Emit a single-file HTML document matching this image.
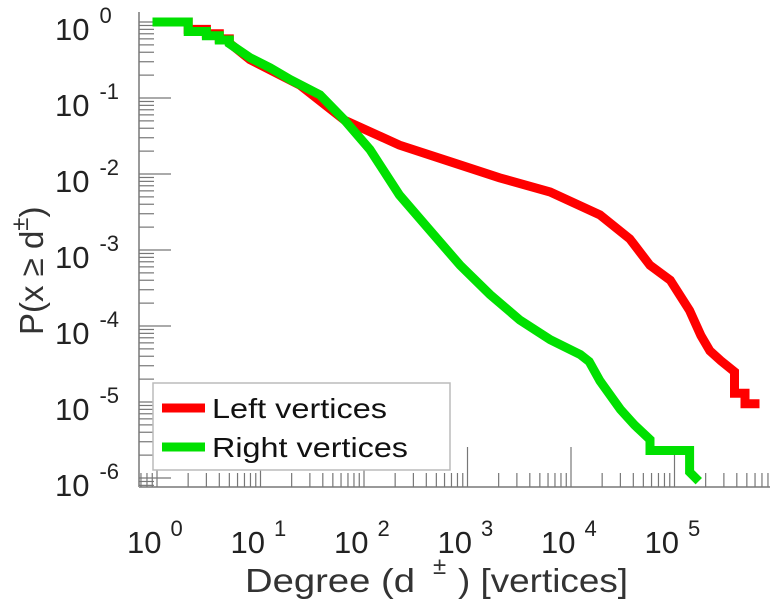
<!DOCTYPE html>
<html><head><meta charset="utf-8"><style>
html,body{margin:0;padding:0;background:#fff;}
svg{display:block;font-family:"Liberation Sans",sans-serif;}
</style></head><body>
<svg id="chart" width="774" height="600" viewBox="0 0 774 600" xmlns="http://www.w3.org/2000/svg">
<g id="axes"></g>
<g id="series"></g>
<g id="legend">
  <rect x="153" y="383" width="297" height="87" fill="#fff" stroke="#bbb" stroke-width="1.5"/>
  <line x1="162" y1="408" x2="205" y2="408" stroke="#ff0000" stroke-width="9"/>
  <text x="212" y="418" font-size="28" fill="#111" textLength="175" lengthAdjust="spacingAndGlyphs">Left vertices</text>
  <line x1="162" y1="447" x2="205" y2="447" stroke="#00e000" stroke-width="9"/>
  <text x="212" y="457" font-size="28" fill="#111" textLength="196" lengthAdjust="spacingAndGlyphs">Right vertices</text>
</g>
<g fill="#333">
  <text x="245" y="592" font-size="33" textLength="170" lengthAdjust="spacingAndGlyphs">Degree (d</text>
  <text x="433" y="574" font-size="24">±</text>
  <text x="458" y="592" font-size="33" textLength="170" lengthAdjust="spacingAndGlyphs">) [vertices]</text>
</g>
<text transform="translate(43,335) rotate(-90)" font-size="33" fill="#333">P(x ≥ d<tspan dy="-15" font-size="24">±</tspan><tspan dy="15">)</tspan></text>
</svg>
<script>
const xTicks = [0, 1, 2, 3, 4, 5];
const yTicks = [0, -1, -2, -3, -4, -5, -6];
const leftDegree = [1, 2, 2, 3, 3, 4, 4, 5, 5, 7.9, 24, 65, 220, 680, 2040, 6300, 19000, 37000, 58000, 91000, 140000, 180000, 220000, 280000, 380000, 380000, 480000, 480000, 600000];
const leftProb =   [1, 1, 0.8, 0.8, 0.7, 0.7, 0.6, 0.6, 0.53, 0.32, 0.148, 0.051, 0.024, 0.0145, 0.0089, 0.0058, 0.0029, 0.0014, 0.00063, 0.0004, 0.00016, 0.000075, 0.000047, 0.000035, 0.000025, 0.000013, 0.000013, 0.0000095, 0.0000095];
const rightDegree = [1, 2, 2, 3, 3, 4, 4, 5, 5, 7.9, 12.4, 19.3, 37.6, 65, 114, 220, 435, 850, 1650, 3200, 6300, 12300, 15000, 19000, 30000, 41000, 58000, 58000, 140000, 140000, 160000];
const rightProb =   [1, 1, 0.75, 0.75, 0.66, 0.66, 0.58, 0.58, 0.52, 0.34, 0.25, 0.175, 0.11, 0.051, 0.021, 0.0053, 0.0018, 0.00063, 0.00026, 0.00012, 0.000066, 0.000042, 0.000034, 0.000019, 0.000008, 0.000005, 0.0000032, 0.0000023, 0.0000023, 0.0000012, 0.000001];

const X0 = 157, XD = 103.5, Y0 = 22, YD = 76;
const axL = 139, axB = 487, axT = 12, axR = 770;
function xs(d){ return X0 + Math.log10(d) * XD; }
function ys(p){ return Y0 - Math.log10(p) * YD; }
const NS = "http://www.w3.org/2000/svg";
const axes = document.getElementById('axes');
function mk(tag, attrs, parent){ const e = document.createElementNS(NS, tag); for (const k in attrs) e.setAttribute(k, attrs[k]); parent.appendChild(e); return e; }

let ln = mk('line', {x1:axL, y1:axT, x2:axL, y2:axB, stroke:'#999', 'stroke-width':2}, axes);


ln = mk('line', {x1:axL, y1:axB, x2:axR, y2:axB, stroke:'#999', 'stroke-width':2}, axes);



for (let dec = -1; dec <= 5; dec++) {
  for (let m = 1; m <= 9; m++) {
    const x = X0 + (dec + Math.log10(m)) * XD;
    if (x < axL || x > axR) continue;
    const t = mk('line', {x1:x, y1:axB, x2:x, y2:axB - (m === 1 ? 40 : 14), stroke:'#777', 'stroke-width':1.2}, axes);
    
    
  }
}
for (let dec = -7; dec <= 0; dec++) {
  for (let m = 1; m <= 9; m++) {
    const y = Y0 - (dec + Math.log10(m)) * YD;
    if (y < axT || y > axB) continue;
    const t = mk('line', {x1:axL, y1:y, x2:axL + (m === 1 ? 32 : 15), y2:y, stroke:'#777', 'stroke-width':1.2}, axes);
    
    
  }
}
xTicks.forEach(function(e){
  const x = X0 + e * XD;
  const t = mk('text', {x:x - 30, y:553, 'font-size':31, fill:'#222'}, axes);
  
  
  t.textContent = '10';
  const s = mk('tspan', {dx:9, dy:-17, 'font-size':22}, t);
  s.textContent = String(e);
});
yTicks.forEach(function(e){
  const y = Y0 + (-e) * YD;
  const t = mk('text', {x:55, y:y + 18, 'font-size':31, fill:'#222'}, axes);
  
  
  t.textContent = '10';
  const s = mk('tspan', {dx:10, dy:-17, 'font-size':22}, t);
  s.textContent = String(e);
});

const series = document.getElementById('series');
function draw(ds, ps, color, name){
  const pts = ds.map(function(d, i){ return xs(d).toFixed(1) + ',' + ys(ps[i]).toFixed(1); }).join(' ');
  const p = mk('polyline', {points:pts, fill:'none', stroke:color, 'stroke-width':9, 'stroke-linejoin':'miter', 'stroke-linecap':'square'}, series);
  
  
}
draw(leftDegree, leftProb, '#ff0000', 'left-vertices-line');
draw(rightDegree, rightProb, '#00e000', 'right-vertices-line');
</script>
</body></html>
